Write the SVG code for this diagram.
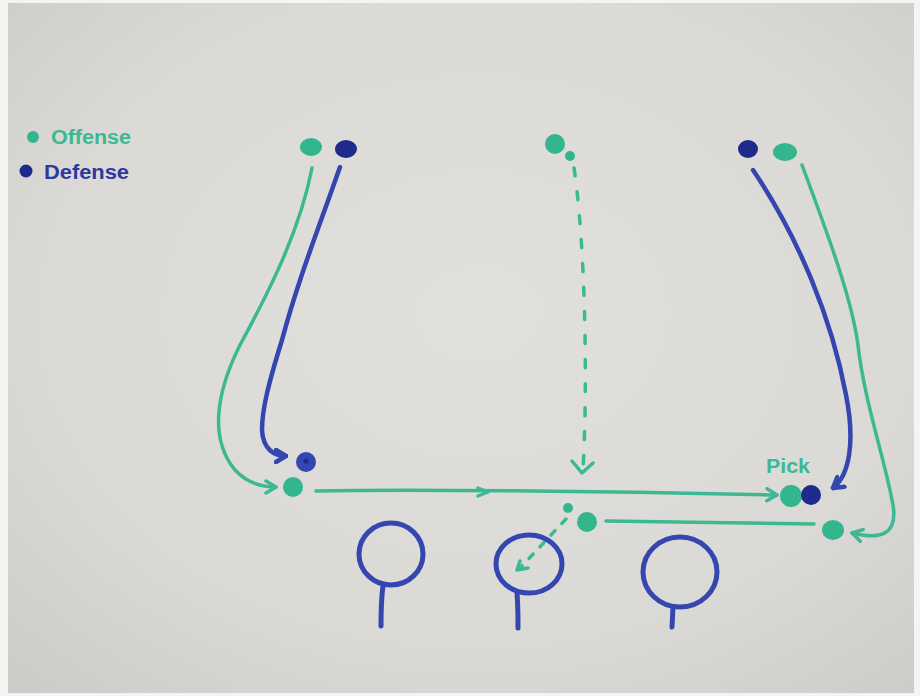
<svg xmlns="http://www.w3.org/2000/svg" width="920" height="696" viewBox="0 0 920 696">
<defs>
<radialGradient id="bg" cx="0.52" cy="0.45" r="0.75">
<stop offset="0" stop-color="#e2e0dc"/>
<stop offset="0.65" stop-color="#dbd9d5"/>
<stop offset="1" stop-color="#cdcbc7"/>
</radialGradient>
<marker id="at" viewBox="-12 -8 14 16" markerWidth="14" markerHeight="16" refX="0" refY="0" orient="auto" markerUnits="userSpaceOnUse">
<path d="M-10,-6 L0,0 L-10,6" fill="none" stroke="#3cb893" stroke-width="3.5" stroke-linecap="round" stroke-linejoin="round"/>
</marker>
<marker id="ab" viewBox="-12 -8 14 16" markerWidth="14" markerHeight="16" refX="0" refY="0" orient="auto" markerUnits="userSpaceOnUse">
<path d="M-10,-6 L0,0 L-10,6" fill="none" stroke="#3446b0" stroke-width="4.5" stroke-linecap="round" stroke-linejoin="round"/>
</marker>
</defs>
<style>
.t{fill:none;stroke:#3cb893;stroke-width:3.5;stroke-linecap:round;stroke-linejoin:round}
.b{fill:none;stroke:#3446b0;stroke-width:4.5;stroke-linecap:round;stroke-linejoin:round}
.d{stroke-dasharray:8 16}
.o{fill:#33b58e}
.x{fill:#1e2a8c}
.hoop{fill:none;stroke:#3446b0;stroke-width:5;stroke-linecap:round}
.lbl{font-family:"Liberation Sans",Arial,sans-serif;font-weight:bold;font-size:20px}
</style>
<rect width="920" height="696" fill="#f4f4f2"/>
<rect x="8" y="3" width="906" height="690" fill="url(#bg)"/>

<g id="legend">
<circle cx="33" cy="137" r="6" class="o"/>
<text x="51" y="144" class="lbl" fill="#3cb893" textLength="80" lengthAdjust="spacingAndGlyphs">Offense</text>
<circle cx="26" cy="171" r="6.5" class="x"/>
<text x="44" y="179" class="lbl" fill="#2c3aa0" textLength="85" lengthAdjust="spacingAndGlyphs">Defense</text>
</g>

<g id="connectors">
<path class="t" d="M312,168 C300,230 270,290 240,345 C215,395 210,440 235,470 C248,484 262,487 276,487" marker-end="url(#at)"/>
<path class="b" d="M340,167 C318,230 298,280 282,340 C268,385 262,410 262,430 C263,450 275,456 286,456" marker-end="url(#ab)"/>
<path class="t" d="M316,491 C400,489 600,491 777,495" marker-end="url(#at)"/>
<path class="t" d="M478,488 L488,492 L478,496"/>
<path class="t d" d="M574,168 C585,240 588,380 583,470"/>
<path class="t" d="M572,461 L582,473 L593,463"/>
<path class="b" d="M753,170 C800,240 832,320 846,395 C855,440 850,475 833,488" marker-end="url(#ab)"/>
<path class="t" d="M802,165 C830,240 852,300 858,345 C864,400 885,460 893,505 C898,535 880,540 852,533" marker-end="url(#at)"/>
<path class="t" d="M606,521 L814,524"/>
<path class="t" d="M566,519 L520,568" style="stroke-dasharray:6 10"/>
<path class="t" d="M520,561 L517,570 L528,568"/>
</g>

<g id="o1"><ellipse cx="311" cy="147" rx="11" ry="9" class="o"/></g>
<g id="d1"><ellipse cx="346" cy="149" rx="11" ry="9" class="x"/></g>
<g id="o2"><circle cx="555" cy="144" r="10" class="o"/><circle cx="570" cy="156" r="5" class="o"/></g>
<g id="d2"><ellipse cx="748" cy="149" rx="10" ry="9" class="x"/></g>
<g id="o3"><ellipse cx="785" cy="152" rx="12" ry="9" class="o"/></g>

<g id="d1-end"><circle cx="306" cy="462" r="10" fill="#3446b0"/><circle cx="306" cy="461" r="2.5" fill="#1e2a8c"/></g>
<g id="o1-end"><circle cx="293" cy="487" r="10" class="o"/></g>
<g id="o2-end"><circle cx="587" cy="522" r="10" class="o"/><circle cx="568" cy="508" r="5" class="o"/></g>
<g id="pick">
<text x="766" y="473" class="lbl" fill="#3cb893" textLength="44" lengthAdjust="spacingAndGlyphs">Pick</text>
<circle cx="791" cy="496" r="11" class="o"/>
<circle cx="811" cy="495" r="10" class="x"/>
</g>
<g id="o3-end"><ellipse cx="833" cy="530" rx="11" ry="10" class="o"/></g>

<g id="hoop1"><ellipse cx="391" cy="554" rx="32" ry="31" class="hoop"/><path class="hoop" d="M383,586 C381,600 381,615 381,626"/></g>
<g id="hoop2"><ellipse cx="529" cy="564" rx="33" ry="29" class="hoop"/><path class="hoop" d="M517,593 C518,605 518,617 518,628"/></g>
<g id="hoop3"><ellipse cx="680" cy="572" rx="37" ry="35" class="hoop"/><path class="hoop" d="M673,607 L672,627"/></g>
</svg>
